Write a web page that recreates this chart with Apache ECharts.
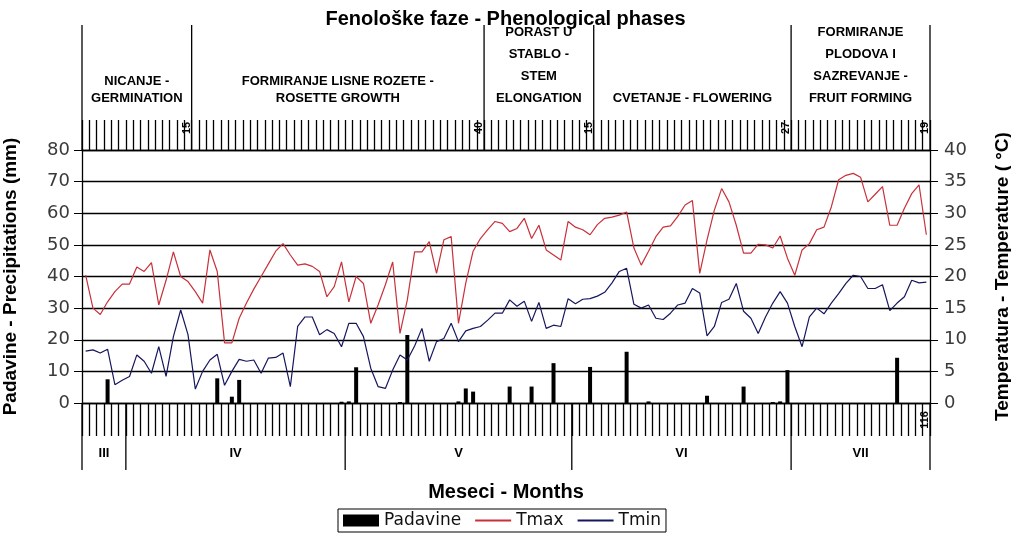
<!DOCTYPE html>
<html><head><meta charset="utf-8">
<script src="https://cdn.jsdelivr.net/npm/echarts@6/dist/echarts.min.js"></script>
<style>html,body{margin:0;padding:0;background:#fff}#c{width:1011px;height:560px}</style>
</head><body><div id="c"></div>
<script>
// ---- data ----
const monthNames = ['III', 'IV', 'V', 'VI', 'VII'];
const monthFirstDay = [26, 1, 1, 1, 1];
const monthDayCount = [6, 30, 31, 30, 19];

const phaseLabels = [
  ['NICANJE -', 'GERMINATION'],
  ['FORMIRANJE LISNE ROZETE -', 'ROSETTE GROWTH'],
  ['PORAST U', 'STABLO -', 'STEM', 'ELONGATION'],
  ['CVETANJE - FLOWERING'],
  ['FORMIRANJE', 'PLODOVA I', 'SAZREVANJE -', 'FRUIT FORMING']
];
const phaseDays = [15, 40, 15, 27, 19];
const totalDaysLabel = '116';

const precip = [
  0, 0, 0, 7.5, 0, 0, 0, 0, 0, 0,
  0, 0, 0, 0, 0, 0, 0, 0, 7.8, 0,
  2.0, 7.3, 0, 0, 0, 0, 0, 0, 0, 0,
  0, 0, 0, 0, 0, 0.4, 0.5, 11.3, 0, 0,
  0, 0, 0, 0.3, 21.5, 0, 0, 0, 0, 0,
  0, 0.5, 4.6, 3.6, 0, 0, 0, 0, 5.2, 0,
  0, 5.2, 0, 0, 12.6, 0, 0, 0, 0, 11.4,
  0, 0, 0, 0, 16.2, 0, 0, 0.5, 0, 0,
  0, 0, 0, 0, 0, 2.3, 0, 0, 0, 0,
  5.2, 0, 0, 0, 0.3, 0.5, 10.4, 0, 0, 0,
  0, 0, 0, 0, 0, 0, 0, 0, 0, 0,
  0, 14.3, 0, 0, 0, 0
];
const tmax = [
  20.2, 15.0, 14.0, 16.0, 17.6, 18.8, 18.8, 21.5, 20.8, 22.2,
  15.5, 19.4, 23.9, 20.0, 19.2, 17.6, 15.8, 24.2, 20.8, 9.5,
  9.5, 13.4, 15.8, 18.0, 20.0, 22.0, 24.0, 25.2, 23.4, 21.8,
  22.0, 21.6, 20.8, 16.8, 18.4, 22.3, 16.0, 20.0, 18.9, 12.6,
  15.5, 18.7, 22.3, 11.0, 16.3, 23.9, 23.9, 25.5, 20.5, 25.8,
  26.3, 12.6, 19.0, 24.0, 26.0, 27.4, 28.7, 28.4, 27.1, 27.6,
  29.2, 26.0, 28.1, 24.2, 23.4, 22.6, 28.7, 27.8, 27.4, 26.6,
  28.2, 29.2, 29.4, 29.7, 30.2, 24.5, 21.8, 24.0, 26.3, 27.8,
  28.0, 29.5, 31.3, 32.0, 20.5, 25.8, 30.5, 33.9, 31.8, 28.1,
  23.7, 23.7, 25.1, 25.0, 24.5, 26.4, 22.9, 20.2, 24.2, 25.2,
  27.4, 27.8, 31.0, 35.3, 36.0, 36.3, 35.7, 31.8, 33.0, 34.2,
  28.1, 28.1, 30.8, 33.1, 34.5, 26.6
];
const tmin = [
  8.2, 8.4, 7.9, 8.5, 2.9, 3.6, 4.2, 7.6, 6.6, 4.7,
  8.9, 4.2, 10.5, 14.7, 10.8, 2.2, 5.0, 6.8, 7.7, 2.8,
  5.0, 6.9, 6.6, 6.8, 4.7, 7.1, 7.2, 7.9, 2.6, 12.1,
  13.6, 13.6, 10.8, 11.6, 11.0, 8.9, 12.6, 12.6, 10.5, 5.5,
  2.6, 2.3, 5.2, 7.6, 6.8, 9.0, 11.8, 6.6, 9.7, 10.2,
  12.6, 9.7, 11.4, 11.8, 12.1, 13.1, 14.2, 14.2, 16.3, 15.3,
  16.1, 12.9, 15.9, 11.8, 12.3, 12.1, 16.5, 15.7, 16.4, 16.5,
  16.9, 17.5, 19.0, 20.8, 21.3, 15.6, 15.0, 15.5, 13.4, 13.2,
  14.2, 15.5, 15.8, 18.1, 17.4, 10.6, 12.1, 15.9, 16.4, 18.9,
  14.5, 13.4, 11.0, 13.6, 15.8, 17.6, 15.8, 12.1, 8.9, 13.6,
  15.0, 14.1, 15.8, 17.3, 18.9, 20.2, 20.0, 18.1, 18.1, 18.7,
  14.6, 15.8, 16.8, 19.4, 19.0, 19.1
];

// categories: one per day (dd.month)
const days = [];
monthNames.forEach((m, mi) => {
  for (let d = 0; d < monthDayCount[mi]; d++) days.push((monthFirstDay[mi] + d) + '.' + m);
});

const boldFont = "'Liberation Sans', Arial, sans-serif";
const numFont = "'DejaVu Sans', sans-serif";

const chart = echarts.init(document.getElementById('c'));
const option = {
  animation: false,
  backgroundColor: '#fff',
  grid: { left: 82, right: 81, top: 150, bottom: 157, containLabel: false, outerBoundsMode: 'none' },
  legend: {
    data: [
      { name: 'Padavine', icon: 'rect' },
      { name: 'Tmax', itemStyle: { opacity: 0 } },
      { name: 'Tmin', itemStyle: { opacity: 0 } }
    ],
    left: 338, top: 509,
    itemWidth: 36, itemHeight: 12, itemGap: 13,
    padding: [3, 5],
    borderColor: '#000', borderWidth: 1,
    textStyle: { fontFamily: numFont, fontSize: 17, color: '#111' }
  },
  xAxis: [
    {
      type: 'category', data: days, position: 'bottom', boundaryGap: true,
      axisLine: { show: true, onZero: false, lineStyle: { color: '#000', width: 1.3 } },
      axisTick: { show: true, interval: 0, length: 33, lineStyle: { color: '#000', width: 1.3 } },
      axisLabel: { show: false }, splitLine: { show: false }
    },
    {
      type: 'category', data: days, position: 'top', boundaryGap: true,
      axisLine: { show: true, onZero: false, lineStyle: { color: '#000', width: 1.3 } },
      axisTick: { show: true, interval: 0, length: 30, lineStyle: { color: '#000', width: 1.3 } },
      axisLabel: { show: false }, splitLine: { show: false }
    }
  ],
  yAxis: [
    {
      type: 'value', min: 0, max: 80, interval: 10, position: 'left',
      name: 'Padavine - Precipitations (mm)', nameLocation: 'middle', nameGap: 62, nameRotate: 90,
      nameTextStyle: { fontFamily: boldFont, fontWeight: 'bold', fontSize: 19, color: '#000' },
      axisLine: { show: true, lineStyle: { color: '#000', width: 1.3 } },
      axisTick: { show: true, length: 8, lineStyle: { color: '#000' } },
      axisLabel: { margin: 12, fontFamily: numFont, fontSize: 18, color: '#3a3a3a' },
      splitLine: { show: true, lineStyle: { color: '#000', width: 1.3 } }
    },
    {
      type: 'value', min: 0, max: 40, interval: 5, position: 'right',
      name: 'Temperatura - Temperature ( °C)', nameLocation: 'middle', nameGap: 63, nameRotate: 90,
      nameTextStyle: { fontFamily: boldFont, fontWeight: 'bold', fontSize: 19, color: '#000' },
      axisLine: { show: true, lineStyle: { color: '#000', width: 1.3 } },
      axisTick: { show: true, length: 8, lineStyle: { color: '#000' } },
      axisLabel: { margin: 14, fontFamily: numFont, fontSize: 18, color: '#3a3a3a' },
      splitLine: { show: false }
    }
  ],
  series: [
    { name: 'Padavine', type: 'bar', xAxisIndex: 0, yAxisIndex: 0, data: precip, barWidth: 4,
      itemStyle: { color: '#000' } },
    { name: 'Tmax', type: 'line', xAxisIndex: 0, yAxisIndex: 1, data: tmax, symbol: 'none', showSymbol: false,
      lineStyle: { color: '#c8303a', width: 1.2 }, itemStyle: { color: '#c8303a' } },
    { name: 'Tmin', type: 'line', xAxisIndex: 0, yAxisIndex: 1, data: tmin, symbol: 'none', showSymbol: false,
      lineStyle: { color: '#16165e', width: 1.2 }, itemStyle: { color: '#16165e' } }
  ]
};
chart.setOption(option);

// ---- annotations positioned through the axes ----
const x0 = chart.convertToPixel({ xAxisIndex: 0 }, 0);
const band = chart.convertToPixel({ xAxisIndex: 0 }, 1) - x0;
const bx = c => x0 - band / 2 + c * band;
const yTop = chart.convertToPixel({ yAxisIndex: 0 }, 80);
const yBot = chart.convertToPixel({ yAxisIndex: 0 }, 0);
const g = [];
const lineEl = (x, y1, y2) => ({ type: 'line', silent: true,
  shape: { x1: x, y1: y1, x2: x, y2: y2 }, style: { stroke: '#000', lineWidth: 1.3 } });

g.push({ type: 'text', left: 'center', top: 9,
  style: { text: 'Fenološke faze - Phenological phases', font: "bold 20px " + boldFont, fill: '#000' } });

// phases
let cum = 0;
const phaseBounds = [0];
phaseDays.forEach(d => { cum += d; phaseBounds.push(cum); });
phaseBounds.forEach(c => g.push(lineEl(bx(c), 25, yTop)));
phaseLabels.forEach((lines, i) => {
  const cx = (bx(phaseBounds[i]) + bx(phaseBounds[i + 1])) / 2;
  const lh = lines.length > 2 ? 22 : 17;
  g.push({ type: 'text', silent: true, x: cx, y: lines.length > 2 ? 109 : 107,
    style: { text: lines.join('\n'), align: 'center', verticalAlign: 'bottom', lineHeight: lh,
      font: "bold 13px " + boldFont, fill: '#000' } });
  g.push({ type: 'text', silent: true, x: bx(phaseBounds[i + 1]) - 5, y: 128, rotation: Math.PI / 2,
    style: { text: String(phaseDays[i]), x: 0, y: 0, align: 'center', verticalAlign: 'middle',
      font: "bold 11px " + boldFont, fill: '#000' } });
});

// months
let mc = 0;
const monthBounds = [0];
monthDayCount.forEach(d => { mc += d; monthBounds.push(mc); });
monthBounds.forEach(c => g.push(lineEl(bx(c), yBot, 470)));
monthNames.forEach((m, i) => {
  const cx = (bx(monthBounds[i]) + bx(monthBounds[i + 1])) / 2;
  g.push({ type: 'text', silent: true, x: cx, y: 453,
    style: { text: m, align: 'center', verticalAlign: 'middle', font: "bold 13px " + boldFont, fill: '#000' } });
});
g.push({ type: 'text', silent: true, x: bx(monthBounds[monthBounds.length - 1]) - 5, y: 420, rotation: Math.PI / 2,
  style: { text: totalDaysLabel, x: 0, y: 0, align: 'center', verticalAlign: 'middle',
    font: "bold 11px " + boldFont, fill: '#000' } });

g.push({ type: 'text', silent: true, x: (bx(0) + bx(monthBounds[monthBounds.length - 1])) / 2, y: 492,
  style: { text: 'Meseci - Months', align: 'center', verticalAlign: 'middle', font: "bold 20px " + boldFont, fill: '#000' } });

chart.setOption({ graphic: g });
</script>
</body></html>
